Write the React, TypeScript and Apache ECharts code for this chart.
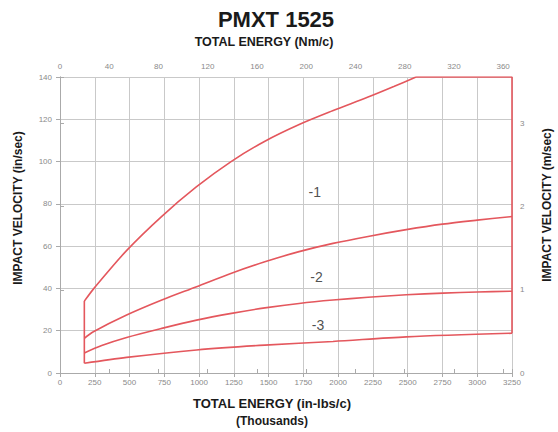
import React, { useEffect, useRef } from "react";
import * as echarts from "echarts";

// TOTAL ENERGY (thousands in-lbs/c) vs IMPACT VELOCITY (in/sec)
const curve1: [number, number][] = [
  [175, 34], [250, 40.5], [480, 58], [730, 74], [980, 88], [1230, 100],
  [1470, 109.5], [1720, 117.5], [1960, 124], [2215, 130.5], [2400, 135.5], [2560, 140],
];
const curve1Cap: [number, number][] = [[2560, 140], [3250, 140], [3250, 18.8]];
const curve2: [number, number][] = [
  [175, 16.4], [240, 19.5], [479, 27.4], [732, 34.5], [982, 40.8], [1233, 47.2],
  [1473, 52.6], [1719, 57.4], [1963, 61.3], [2215, 64.6], [2490, 67.8], [2750, 70.4],
  [3000, 72.3], [3250, 74],
];
const curve3: [number, number][] = [
  [175, 9.5], [300, 13], [479, 16.8], [732, 21.1], [982, 25], [1233, 28.2],
  [1473, 30.8], [1719, 32.9], [1963, 34.5], [2215, 35.8], [2490, 37], [2754, 37.8],
  [3000, 38.3], [3250, 38.7],
];
const curve4: [number, number][] = [
  [175, 4.6], [479, 7.4], [982, 10.9], [1473, 13.2], [1963, 14.9], [2490, 17.1],
  [3250, 18.8],
];
const leftEdge: [number, number][] = [[175, 4.6], [175, 34]];
const curveLabels: [number, number, string][] = [
  [1832, 85.7, "-1"],
  [1844, 45.5, "-2"],
  [1855, 22.7, "-3"],
];

const X_MAX = 3250; // thousands in-lbs
const NM_MAX = 367.2; // thousands Nm equivalent
const Y_MAX = 140; // in/sec
const MS_MAX = 3.556; // m/sec equivalent

const RED = "#e4575d";
const GRID = "#c9c9c9";
const LABEL = "#8a8a8a";
const FONT = "'Liberation Sans', Arial, sans-serif";

export default function App() {
  const ref = useRef<HTMLDivElement>(null);
  useEffect(() => {
    if (!ref.current) return;
    const chart = echarts.init(ref.current, null, { renderer: "svg" });
    const lineSeries = (data: [number, number][], smooth: boolean) => ({
      type: "line",
      data,
      smooth: smooth ? 0.3 : false,
      showSymbol: false,
      symbol: "none",
      lineStyle: { color: RED, width: 1.6 },
      xAxisIndex: 0,
      yAxisIndex: 0,
      z: 5,
    });
    chart.setOption({
      animation: false,
      backgroundColor: "#ffffff",
      textStyle: { fontFamily: FONT },
      title: {
        text: "PMXT 1525",
        left: 271,
        top: 3,
        textAlign: "center",
        textStyle: { fontSize: 22, fontWeight: "bold", color: "#1a1a1a", fontFamily: FONT },
      },
      grid: { left: 60, right: 46, top: 77, bottom: 59, containLabel: false },
      xAxis: [
        {
          type: "value",
          position: "bottom",
          min: 0,
          max: X_MAX,
          interval: 250,
          axisLine: { show: true, lineStyle: { color: "#aaaaaa" } },
          axisTick: { show: true, length: 4, lineStyle: { color: "#aaaaaa" } },
          axisLabel: { color: LABEL, fontSize: 8, margin: 5, formatter: (v: number) => String(v) },
          splitLine: { show: true, lineStyle: { color: GRID, width: 1 } },
        },
        {
          type: "value",
          position: "top",
          min: 0,
          max: NM_MAX,
          interval: 40,
          axisLine: { show: true, lineStyle: { color: "#aaaaaa" } },
          axisTick: { show: true, length: 4, lineStyle: { color: "#aaaaaa" } },
          axisLabel: {
            color: LABEL,
            fontSize: 8,
            margin: 7,
            formatter: (v: number) => (Math.abs(v % 40) < 1e-6 ? String(v) : ""),
          },
          splitLine: { show: false },
        },
      ],
      yAxis: [
        {
          type: "value",
          position: "left",
          min: 0,
          max: Y_MAX,
          interval: 20,
          axisLine: { show: true, lineStyle: { color: "#aaaaaa" } },
          axisTick: { show: true, length: 4, lineStyle: { color: "#aaaaaa" } },
          axisLabel: { color: LABEL, fontSize: 8, margin: 8 },
          splitLine: { show: true, lineStyle: { color: GRID, width: 1 } },
        },
        {
          type: "value",
          position: "right",
          min: 0,
          max: MS_MAX,
          interval: 1,
          axisLine: { show: true, lineStyle: { color: "#aaaaaa" } },
          axisTick: { show: true, length: 4, lineStyle: { color: "#aaaaaa" } },
          axisLabel: {
            color: LABEL,
            fontSize: 8,
            margin: 8,
            formatter: (v: number) => (Math.abs(v - Math.round(v)) < 1e-6 ? String(v) : ""),
          },
          splitLine: { show: false },
        },
      ],
      graphic: [
        {
          type: "text",
          x: 264,
          y: 42,
          style: {
            text: "TOTAL ENERGY (Nm/c)",
            font: `bold 12.5px ${FONT}`,
            fill: "#1a1a1a",
            align: "center",
            verticalAlign: "middle",
          },
        },
        {
          type: "text",
          x: 272,
          y: 403,
          style: {
            text: "TOTAL ENERGY (in-lbs/c)",
            font: `bold 13px ${FONT}`,
            fill: "#1a1a1a",
            align: "center",
            verticalAlign: "middle",
          },
        },
        {
          type: "text",
          x: 272,
          y: 421,
          style: {
            text: "(Thousands)",
            font: `bold 12px ${FONT}`,
            fill: "#1a1a1a",
            align: "center",
            verticalAlign: "middle",
          },
        },
        {
          type: "text",
          x: 18,
          y: 208,
          rotation: Math.PI / 2,
          style: {
            text: "IMPACT VELOCITY (in/sec)",
            font: `bold 12px ${FONT}`,
            fill: "#1a1a1a",
            align: "center",
            verticalAlign: "middle",
          },
        },
        {
          type: "text",
          x: 547,
          y: 205,
          rotation: Math.PI / 2,
          style: {
            text: "IMPACT VELOCITY (m/sec)",
            font: `bold 12px ${FONT}`,
            fill: "#1a1a1a",
            align: "center",
            verticalAlign: "middle",
          },
        },
      ],
      series: [
        lineSeries(curve1, true),
        lineSeries(curve1Cap, false),
        lineSeries(curve2, true),
        lineSeries(curve3, true),
        lineSeries(curve4, true),
        lineSeries(leftEdge, false),
        {
          type: "scatter",
          data: curveLabels.map((d) => ({ value: [d[0], d[1]], name: d[2] })),
          symbolSize: 0,
          xAxisIndex: 0,
          yAxisIndex: 0,
          label: {
            show: true,
            position: "inside",
            formatter: (p: any) => p.name,
            fontSize: 14,
            color: "#222222",
            fontFamily: FONT,
          },
          z: 6,
        },
      ],
    });
    return () => chart.dispose();
  }, []);
  return <div ref={ref} style={{ width: 558, height: 432, position: "absolute", left: 0, top: 0 }} />;
}
